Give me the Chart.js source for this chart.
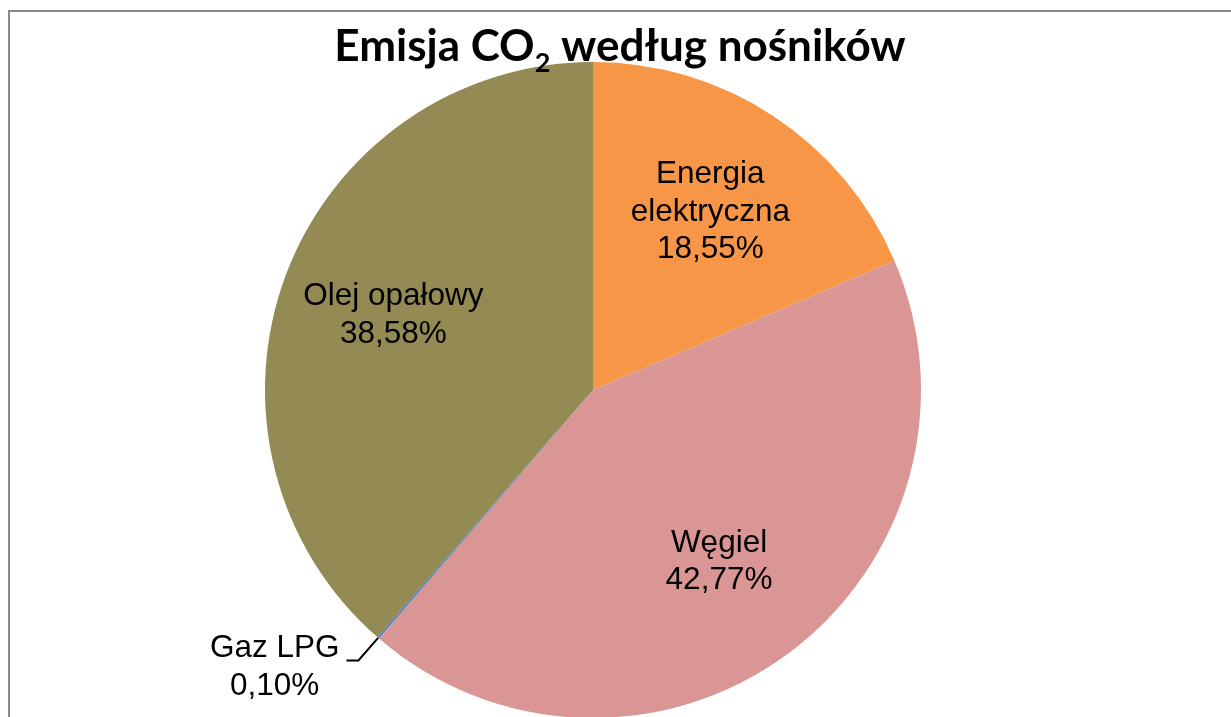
<!DOCTYPE html>
<html lang="pl">
<head>
<meta charset="utf-8">
<title>Emisja CO2 według nośników</title>
<script src="https://cdn.jsdelivr.net/npm/chart.js@4"></script>
<style>
  html, body { margin: 0; padding: 0; background: #fff; overflow: hidden; }
  .ramka {
    position: absolute; left: 8px; top: 10px; width: 1300px; height: 800px;
    border-left: 2px solid #8a8a8a; border-top: 2px solid #8a8a8a;
  }
  .wykres { position: absolute; left: 0; top: 0; width: 1231px; height: 718px; }
</style>
</head>
<body>
<div class="ramka"></div>
<div class="wykres"><canvas id="myChart"></canvas></div>
<script>
// dane wykresu
const nosniki = [['Energia', 'elektryczna'], ['Węgiel'], ['Gaz LPG'], ['Olej opałowy']]
const udzialy = [18.55, 42.77, 0.10, 38.58]
const kolory = ['#F79646', '#D99694', '#4F81BD', '#948A54']

const tytulPrzed = 'Emisja CO'
const tytulIndeks = '2'
const tytulPo = ' według nośników'

// tytul z indeksem dolnym
const tytul = {
    id: 'tytul',
    afterDraw(chart) {
        const ctx = chart.ctx
        ctx.save()
        ctx.fillStyle = '#000'
        ctx.textBaseline = 'alphabetic'
        const duzy = 'bold 44px Lato, "Open Sans", sans-serif'
        const maly = 'bold 27px Lato, "Open Sans", sans-serif'
        ctx.font = duzy
        const w1 = ctx.measureText(tytulPrzed).width
        const w3 = ctx.measureText(tytulPo).width
        ctx.font = maly
        const w2 = ctx.measureText(tytulIndeks).width
        let x = 620 - (w1 + w2 + w3) / 2
        const y = 61
        ctx.font = duzy
        ctx.fillText(tytulPrzed, x, y)
        x += w1
        ctx.font = maly
        ctx.fillText(tytulIndeks, x, y + 11)
        x += w2
        ctx.font = duzy
        ctx.fillText(tytulPo, x, y)
        ctx.restore()
    }
}

// etykiety danych
const etykiety = {
    id: 'etykiety',
    afterDatasetsDraw(chart) {
        const ctx = chart.ctx
        const luki = chart.getDatasetMeta(0).data
        ctx.save()
        ctx.font = '31.5px "Liberation Sans", Arial, sans-serif'
        ctx.fillStyle = '#000'
        ctx.textAlign = 'center'
        ctx.textBaseline = 'middle'
        const lh = 37.5
        luki.forEach((luk, i) => {
            const p = luk.getProps(['x', 'y', 'startAngle', 'endAngle', 'outerRadius'], true)
            const kat = (p.startAngle + p.endAngle) / 2
            const linie = nosniki[i].concat([udzialy[i].toFixed(2).replace('.', ',') + '%'])
            if (udzialy[i] >= 1) {
                const r = p.outerRadius * 0.65
                const cx = p.x + Math.cos(kat) * r
                const cy = p.y + Math.sin(kat) * r
                const y0 = cy - (linie.length - 1) * lh / 2
                linie.forEach((t, j) => ctx.fillText(t, cx, y0 + j * lh))
            } else {
                // mala wartosc - etykieta na zewnatrz z linia odniesienia
                const sx = p.x + Math.cos(kat) * p.outerRadius
                const sy = p.y + Math.sin(kat) * p.outerRadius
                const ex = p.x + Math.cos(kat) * (p.outerRadius + 30)
                const ey = p.y + Math.sin(kat) * (p.outerRadius + 30)
                ctx.strokeStyle = '#000'
                ctx.lineWidth = 2
                ctx.beginPath()
                ctx.moveTo(sx, sy)
                ctx.lineTo(ex, ey)
                ctx.lineTo(ex - 12, ey)
                ctx.stroke()
                let szer = 0
                linie.forEach(t => { szer = Math.max(szer, ctx.measureText(t).width) })
                const cx = ex - 19 - szer / 2
                linie.forEach((t, j) => ctx.fillText(t, cx, ey - 12 + j * lh))
            }
        })
        ctx.restore()
    }
}

new Chart(document.getElementById('myChart'), {
    type: 'pie',
    data: {
        labels: nosniki,
        datasets: [{
            data: udzialy,
            backgroundColor: kolory,
            borderWidth: 0
        }]
    },
    options: {
        responsive: true,
        maintainAspectRatio: false,
        animation: false,
        events: [],
        layout: { padding: { left: 265, right: 310, top: 62, bottom: 0 } },
        plugins: {
            legend: { display: false },
            tooltip: { enabled: false },
            title: { display: false }
        }
    },
    plugins: [tytul, etykiety]
})
</script>
</body>
</html>
